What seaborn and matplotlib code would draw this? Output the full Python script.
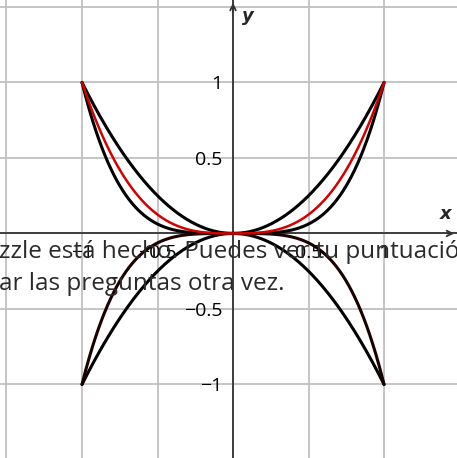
import numpy as np
import pandas as pd
import matplotlib
matplotlib.use("Agg")
import matplotlib.pyplot as plt
import seaborn as sns

# curvas: y = x^2, y = x^4, y = |x|^3 (roja), y = -x^2, y = -x^4
x = np.linspace(-1, 1, 401)
curves = {
    "x2": x ** 2,
    "x4": x ** 4,
    "x3abs": np.abs(x) ** 3,
    "mx2": -x ** 2,
    "mx4": -x ** 4,
}
colors = {"x2": "black", "x4": "black", "x3abs": "#d40000", "mx2": "black", "mx4": "#1a0000"}
widths = {"x2": 2.2, "x4": 2.2, "x3abs": 1.8, "mx2": 2.2, "mx4": 2.2}

yticks = [-1, -0.5, 0.5, 1]
ytick_labels = ["\u22121", "\u22120.5", "0.5", "1"]
xticks = [-1, -0.5, 0.5, 1]
xtick_labels = ["\u22121", "\u22120.5", "0.5", "1"]
msg1 = "zzle está hecho. Puedes ver tu puntuación"
msg2 = "ar las preguntas otra vez."

sns.set_style("white")
plt.rcParams["font.family"] = ["Open Sans", "DejaVu Sans"]

fig = plt.figure(figsize=(4.57, 4.58), dpi=100)
ax = fig.add_axes([0, 0, 1, 1])
ax.set_xlim(-1.543, 1.483)
ax.set_ylim(-1.487, 1.546)

# rejilla
for g in np.arange(-1.5, 1.51, 0.5):
    ax.axvline(g, color="#c0c0c0", lw=1.3, zorder=0)
    ax.axhline(g, color="#c0c0c0", lw=1.3, zorder=0)

df = pd.DataFrame(curves)
df["x"] = x
for key in ["x2", "x4", "mx2", "mx4", "x3abs"]:
    sns.lineplot(data=df, x="x", y=key, color=colors[key], lw=widths[key], ax=ax, zorder=3)

for s in ["top", "right"]:
    ax.spines[s].set_visible(False)
ax.spines["left"].set_position(("data", 0))
ax.spines["bottom"].set_position(("data", 0))
ax.spines["left"].set_color("#333333")
ax.spines["bottom"].set_color("#333333")
ax.spines["left"].set_linewidth(1.3)
ax.spines["bottom"].set_linewidth(1.3)

# flechas de los ejes
ax.annotate("", xy=(1.483, 0), xytext=(1.40, 0),
            arrowprops=dict(arrowstyle="->", color="#333333", lw=1.3))
ax.annotate("", xy=(0, 1.546), xytext=(0, 1.45),
            arrowprops=dict(arrowstyle="->", color="#333333", lw=1.3))

ax.set_xticks(xticks)
ax.set_xticklabels(xtick_labels)
ax.set_yticks(yticks)
ax.set_yticklabels(ytick_labels)
ax.tick_params(axis="both", direction="inout", length=9, width=1.2, color="#333333",
               labelsize=14, labelcolor="black", pad=3)
ax.set_xlabel("")
ax.set_ylabel("")

ax.text(1.405, 0.07, "x", fontsize=13, fontweight="bold", style="italic",
        ha="center", va="bottom", family="DejaVu Sans")
ax.text(0.06, 1.44, "y", fontsize=13, fontweight="bold", style="italic",
        ha="left", va="center", family="DejaVu Sans")

# texto superpuesto
fig.text(-0.002, 1 - 258 / 458, msg1, fontsize=17.5, color="#2a2a2a", ha="left",
         va="baseline", zorder=10)
fig.text(-0.002, 1 - 290 / 458, msg2, fontsize=17.5, color="#2a2a2a", ha="left",
         va="baseline", zorder=10)

fig.savefig("out.png", dpi=100)
